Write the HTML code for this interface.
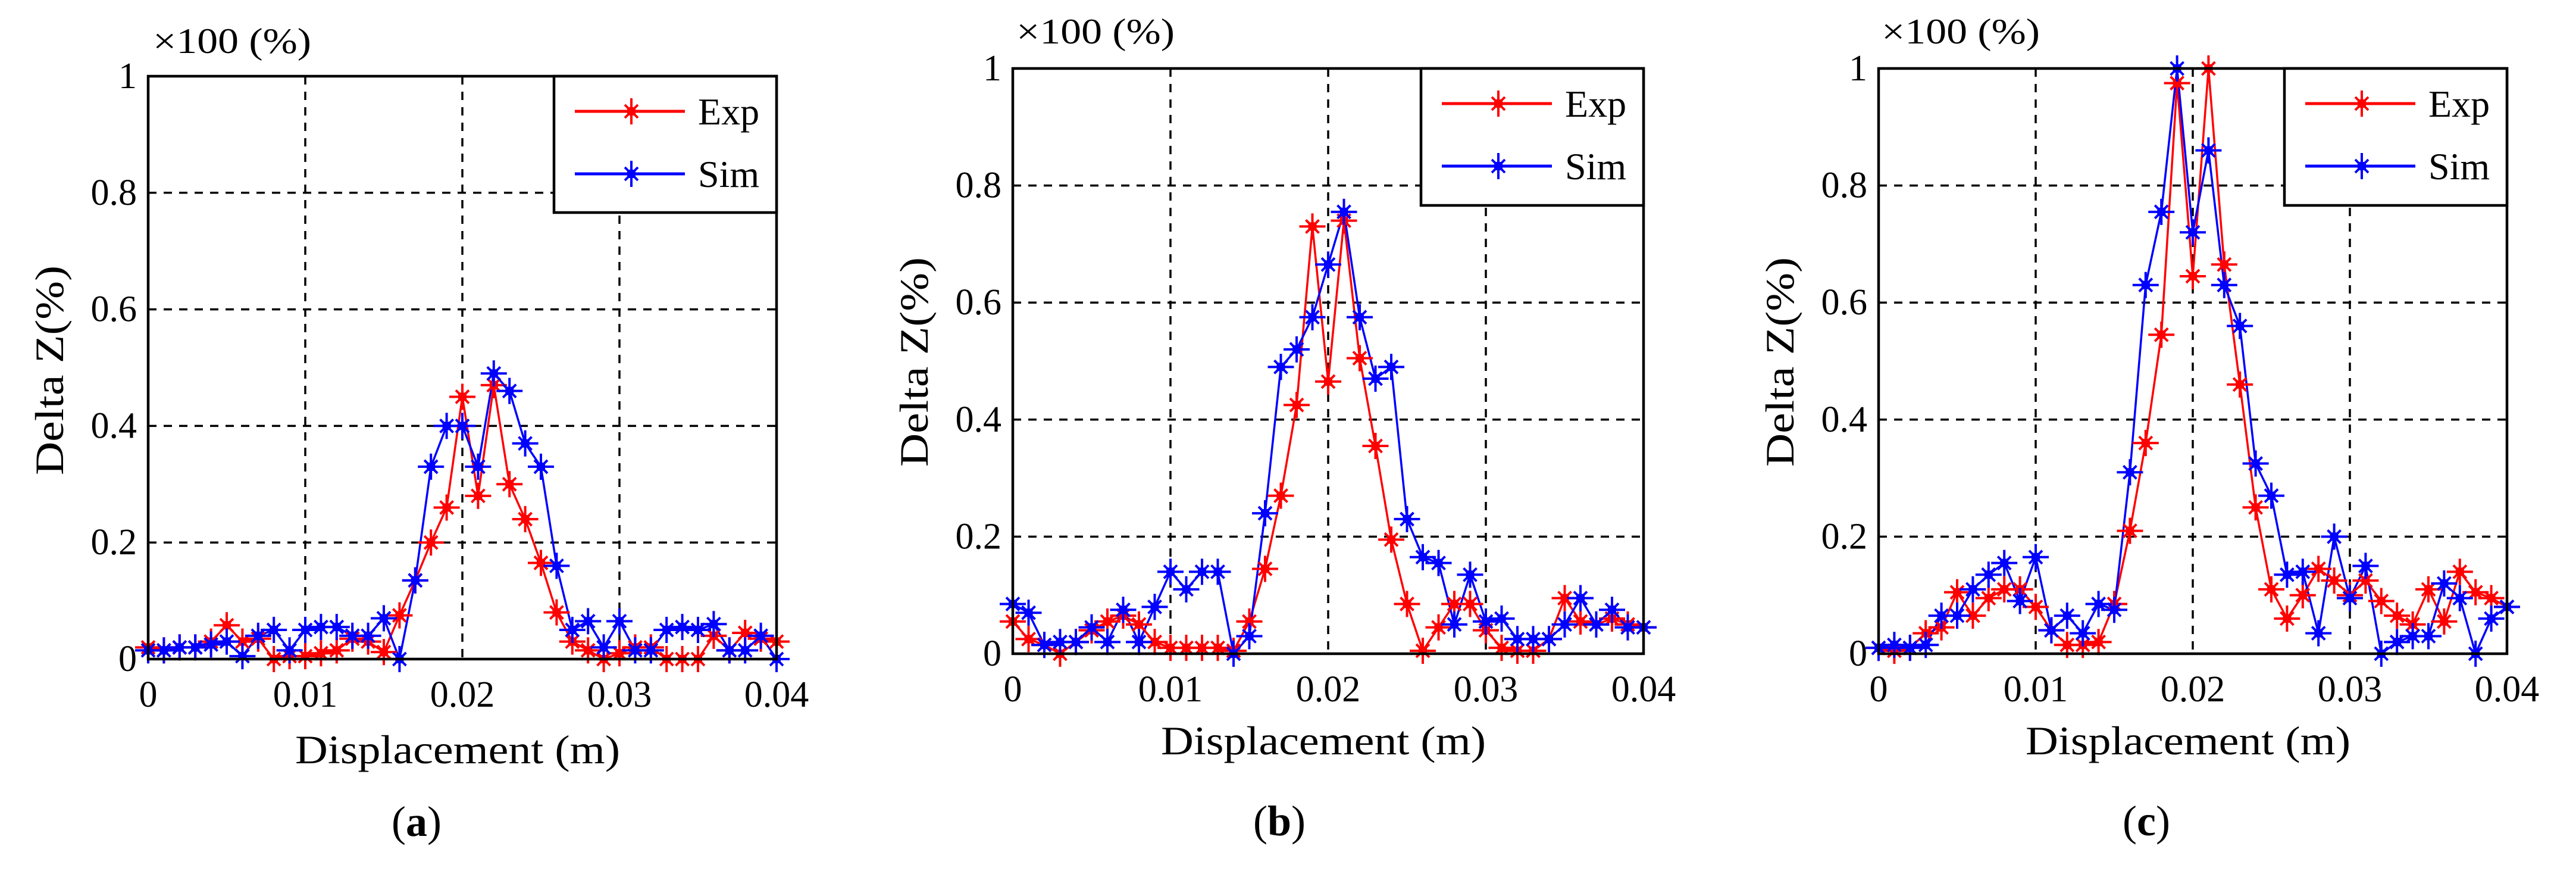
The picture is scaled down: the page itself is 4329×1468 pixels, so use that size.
<!DOCTYPE html>
<html><head><meta charset="utf-8"><style>
html,body{margin:0;padding:0;background:#fff;}
svg{display:block;}
text{font-family:"Liberation Serif",serif;fill:#000;}
</style></head><body>
<svg id="chart" width="4329" height="1468" viewBox="0 0 4329 1468" xmlns="http://www.w3.org/2000/svg"></svg>
<script>
const xTicks=[0,0.01,0.02,0.03,0.04];
const xTickLabels=["0","0.01","0.02","0.03","0.04"];
const yTicks=[0,0.2,0.4,0.6,0.8,1];
const yTickLabels=["0","0.2","0.4","0.6","0.8","1"];
const xValues=[0,0.001,0.002,0.003,0.004,0.005,0.006,0.007,0.008,0.009,0.010,0.011,0.012,0.013,0.014,0.015,0.016,0.017,0.018,0.019,0.020,0.021,0.022,0.023,0.024,0.025,0.026,0.027,0.028,0.029,0.030,0.031,0.032,0.033,0.034,0.035,0.036,0.037,0.038,0.039,0.040];
const expA=[0.02,0.015,0.02,0.02,0.03,0.058,0.03,0.035,0.0,0.005,0.005,0.01,0.015,0.035,0.03,0.012,0.075,0.135,0.2,0.26,0.45,0.28,0.47,0.30,0.24,0.165,0.08,0.03,0.015,0.0,0.01,0.02,0.02,0.0,0.0,0.0,0.04,0.015,0.045,0.035,0.03];
const simA=[0.015,0.015,0.02,0.02,0.025,0.03,0.005,0.04,0.05,0.015,0.05,0.055,0.055,0.04,0.04,0.07,0.0,0.135,0.33,0.40,0.40,0.33,0.49,0.46,0.37,0.33,0.16,0.05,0.065,0.02,0.065,0.015,0.015,0.05,0.055,0.05,0.06,0.015,0.015,0.04,0.0];
const expB=[0.055,0.025,0.015,0.0,0.02,0.04,0.055,0.065,0.05,0.02,0.01,0.01,0.01,0.01,0.005,0.055,0.145,0.27,0.425,0.73,0.465,0.74,0.505,0.355,0.195,0.085,0.005,0.045,0.085,0.085,0.04,0.01,0.005,0.005,0.025,0.095,0.055,0.05,0.06,0.05,0.045];
const simB=[0.085,0.07,0.015,0.02,0.02,0.045,0.02,0.075,0.02,0.08,0.14,0.11,0.14,0.14,0.0,0.03,0.24,0.49,0.52,0.575,0.665,0.755,0.575,0.47,0.49,0.23,0.165,0.155,0.05,0.135,0.055,0.06,0.025,0.025,0.025,0.05,0.095,0.05,0.075,0.045,0.045];
const expC=[0.01,0.005,0.01,0.035,0.045,0.105,0.065,0.095,0.11,0.11,0.08,0.04,0.015,0.015,0.02,0.085,0.21,0.36,0.545,0.975,0.645,1.0,0.665,0.46,0.25,0.11,0.06,0.1,0.145,0.125,0.1,0.125,0.09,0.065,0.05,0.11,0.055,0.14,0.105,0.095,0.08];
const simC=[0.01,0.015,0.01,0.015,0.065,0.065,0.11,0.135,0.155,0.09,0.165,0.04,0.065,0.035,0.085,0.075,0.31,0.63,0.755,1.0,0.72,0.86,0.63,0.56,0.325,0.27,0.135,0.14,0.035,0.2,0.095,0.15,0.0,0.02,0.03,0.03,0.12,0.095,0.0,0.06,0.08];
const seriesNames=["Exp","Sim"];
const seriesColors=["#ff0000","#0000ff"];

const NS="http://www.w3.org/2000/svg";
const svg=document.getElementById('chart');
function mk(tag,attrs,parent){const e=document.createElementNS(NS,tag);for(const k in attrs)e.setAttribute(k,attrs[k]);(parent||svg).appendChild(e);return e;}

const panels=[
 {id:'a',L:249,R:1305,T:128,B:1107,exp:expA,sim:simA,legR:1305,legB:357,capX:700,capY:1404,xlY:1282,titleX:257,titleY:89},
 {id:'b',L:1702,R:2762,T:115,B:1098,exp:expB,sim:simB,legR:2762,legB:345,capX:2150,capY:1403,xlY:1267,titleX:1708,titleY:73},
 {id:'c',L:3157,R:4213,T:115,B:1098,exp:expC,sim:simC,legR:4213,legB:345,capX:3607,capY:1403,xlY:1267,titleX:3162,titleY:73}
];

function star(g,cx,cy,color){
  const s=mk('g',{},g);
  
  
  mk('line',{x1:cx,y1:cy-22,x2:cx,y2:cy+22,stroke:color,'stroke-width':4},s);
  mk('line',{x1:cx-22,y1:cy,x2:cx+22,y2:cy,stroke:color,'stroke-width':4},s);
  mk('line',{x1:cx-11,y1:cy-11,x2:cx+11,y2:cy+11,stroke:color,'stroke-width':4},s);
  mk('line',{x1:cx-11,y1:cy+11,x2:cx+11,y2:cy-11,stroke:color,'stroke-width':4},s);
  mk('rect',{x:cx-7,y:cy-7,width:14,height:14,fill:color},s);
}

panels.forEach(p=>{
  const g=mk('g',{});
  
  
  const xs=v=>p.L+(v-0)/(0.04-0)*(p.R-p.L);
  const ys=v=>p.B-(v-0)/(1-0)*(p.B-p.T);
  // grid
  xTicks.forEach((t,i)=>{
    if(i>0&&i<xTicks.length-1){const l=mk('line',{x1:xs(t),y1:p.T,x2:xs(t),y2:p.B,stroke:'#000','stroke-width':3.5,'stroke-dasharray':'14 12'},g);
    }
    const tx=mk('text',{x:xs(t),y:p.B+80,'font-size':62,'text-anchor':'middle'},g);
    tx.textContent=xTickLabels[i];
    
  });
  yTicks.forEach((t,i)=>{
    if(i>0&&i<yTicks.length-1){const l=mk('line',{x1:p.L,y1:ys(t),x2:p.R,y2:ys(t),stroke:'#000','stroke-width':3.5,'stroke-dasharray':'14 12'},g);
    }
    const tx=mk('text',{x:p.L-19,y:ys(t)+20,'font-size':62,'text-anchor':'end'},g);
    tx.textContent=yTickLabels[i];
    
  });
  // series
  [p.exp,p.sim].forEach((arr,si)=>{
    const pts=arr.map((v,i)=>xs(xValues[i])+','+ys(v)).join(' ');
    const pl=mk('polyline',{points:pts,fill:'none',stroke:seriesColors[si],'stroke-width':3.5},g);
    
    
  });
  [p.exp,p.sim].forEach((arr,si)=>{arr.forEach((v,i)=>star(g,xs(xValues[i]),ys(v),seriesColors[si]));});
  // frame
  const fr=mk('rect',{x:p.L,y:p.T,width:p.R-p.L,height:p.B-p.T,fill:'none',stroke:'#000','stroke-width':4.5},g);
  
  // legend
  const lg=mk('g',{},g);
  
  const lL=p.legR-374;
  mk('rect',{x:lL,y:p.T,width:374,height:p.legB-p.T,fill:'#fff',stroke:'#000','stroke-width':4.5},lg);
  seriesNames.forEach((n,si)=>{
    const e=mk('g',{},lg);
    
    const yy=p.T+59+si*105;
    mk('line',{x1:lL+35,y1:yy,x2:lL+220,y2:yy,stroke:seriesColors[si],'stroke-width':5},e);
    star(e,lL+130,yy,seriesColors[si]);
    const t=mk('text',{x:lL+242,y:yy+22,'font-size':64},e);t.textContent=n;
  });
  // labels
  const tt=mk('text',{x:p.titleX,y:p.titleY,'font-size':60,textLength:266,lengthAdjust:'spacingAndGlyphs'},g);
  tt.textContent='×100 (%)';
  const xl=mk('text',{x:(p.L+p.R)/2-8,y:p.xlY,'font-size':68,'text-anchor':'middle',textLength:546,lengthAdjust:'spacingAndGlyphs'},g);
  xl.textContent='Displacement (m)';
  const ycx=p.L-143, ycy=(p.id==='a')?622:608;
  const yl=mk('text',{x:ycx,y:ycy,'font-size':68,'text-anchor':'middle',transform:'rotate(-90 '+ycx+' '+ycy+')',textLength:352,lengthAdjust:'spacingAndGlyphs'},g);
  yl.textContent='Delta Z(%)';
  const cp=mk('text',{x:p.capX,y:p.capY,'font-size':72,'text-anchor':'middle'},g);
  cp.innerHTML='(<tspan font-weight="bold">'+p.id+'</tspan>)';
  
});
</script>
</body></html>
